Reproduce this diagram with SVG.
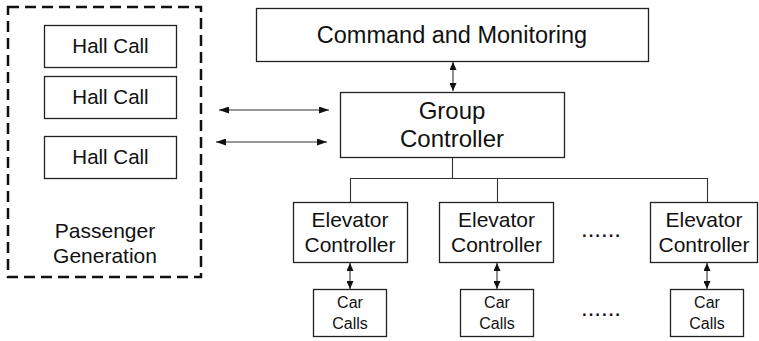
<svg xmlns="http://www.w3.org/2000/svg" width="759" height="341" viewBox="0 0 759 341">
<style>
.box{fill:#fff;stroke:#222;stroke-width:1.3}
.t{font-family:"Liberation Sans",Arial,sans-serif;fill:#111;text-anchor:middle}
.ln{fill:none;stroke:#333;stroke-width:1.1}
</style>
<defs>
<marker id="ah" viewBox="0 0 10 7" refX="10" refY="3.5" markerWidth="10" markerHeight="7" markerUnits="userSpaceOnUse" orient="auto-start-reverse">
<path d="M0,0 L10,3.5 L0,7 z" fill="#111"/>
</marker>
<marker id="av" viewBox="0 0 8 7" refX="8" refY="3.5" markerWidth="8" markerHeight="7" markerUnits="userSpaceOnUse" orient="auto-start-reverse">
<path d="M0,0 L8,3.5 L0,7 z" fill="#111"/>
</marker>
</defs>
<rect width="759" height="341" fill="#fff"/>
<g id="passenger-generation">
<rect x="8" y="7" width="193" height="270" fill="none" stroke="#111" stroke-width="2.5" stroke-dasharray="11,6"/>
<text class="t" x="105" y="238" font-size="21">Passenger</text>
<text class="t" x="105" y="263" font-size="21">Generation</text>
</g>
<g id="hall-call-1"><rect class="box" x="44.5" y="25.5" width="132" height="42"/><text class="t" x="110.5" y="53" font-size="20.5">Hall Call</text></g>
<g id="hall-call-2"><rect class="box" x="44.5" y="76.5" width="132" height="42"/><text class="t" x="110.5" y="104" font-size="20.5">Hall Call</text></g>
<g id="hall-call-3"><rect class="box" x="44.5" y="136.5" width="132" height="42"/><text class="t" x="110.5" y="164" font-size="20.5">Hall Call</text></g>
<g id="command-monitoring"><rect class="box" x="256.5" y="8.5" width="392" height="53"/><text class="t" x="452" y="43" font-size="23.5">Command and Monitoring</text></g>
<g id="group-controller"><rect class="box" x="340.5" y="92.5" width="224" height="65"/><text class="t" x="452" y="119" font-size="24">Group</text><text class="t" x="452" y="147" font-size="24">Controller</text></g>
<g id="elevator-controller-1"><rect class="box" x="293.5" y="202.5" width="114" height="60"/><text class="t" x="350" y="227" font-size="21">Elevator</text><text class="t" x="350" y="252" font-size="21">Controller</text></g>
<g id="elevator-controller-2"><rect class="box" x="439.5" y="202.5" width="114" height="60"/><text class="t" x="496.5" y="227" font-size="21">Elevator</text><text class="t" x="496.5" y="252" font-size="21">Controller</text></g>
<g id="elevator-controller-3"><rect class="box" x="650.5" y="202.5" width="107" height="60"/><text class="t" x="704" y="227" font-size="21">Elevator</text><text class="t" x="704" y="252" font-size="21">Controller</text></g>
<g id="car-calls-1"><rect class="box" x="313.5" y="289.5" width="73" height="47"/><text class="t" x="350" y="308" font-size="16">Car</text><text class="t" x="350" y="329" font-size="16">Calls</text></g>
<g id="car-calls-2"><rect class="box" x="460.5" y="289.5" width="73" height="47"/><text class="t" x="497" y="308" font-size="16">Car</text><text class="t" x="497" y="329" font-size="16">Calls</text></g>
<g id="car-calls-3"><rect class="box" x="670.5" y="289.5" width="73" height="47"/><text class="t" x="707" y="308" font-size="16">Car</text><text class="t" x="707" y="329" font-size="16">Calls</text></g>
<g id="ellipsis">
<text class="t" x="601" y="237" font-size="24">......</text>
<text class="t" x="601" y="316" font-size="24">......</text>
</g>
<g id="connectors">
<line class="ln" x1="219" y1="110" x2="329" y2="110" marker-start="url(#ah)" marker-end="url(#ah)"/>
<line class="ln" x1="216" y1="142" x2="327" y2="142" marker-start="url(#ah)" marker-end="url(#ah)"/>
<line class="ln" x1="453" y1="62" x2="453" y2="91" marker-start="url(#av)" marker-end="url(#av)"/>
<path class="ln" d="M452.5,158 V178.5 M350.5,202 V178.5 H707.5 V202 M497.5,178.5 V202"/>
<line class="ln" x1="350" y1="263" x2="350" y2="289" marker-start="url(#av)" marker-end="url(#av)"/>
<line class="ln" x1="497" y1="263" x2="497" y2="289" marker-start="url(#av)" marker-end="url(#av)"/>
<line class="ln" x1="707" y1="263" x2="707" y2="289" marker-start="url(#av)" marker-end="url(#av)"/>
</g>
</svg>
